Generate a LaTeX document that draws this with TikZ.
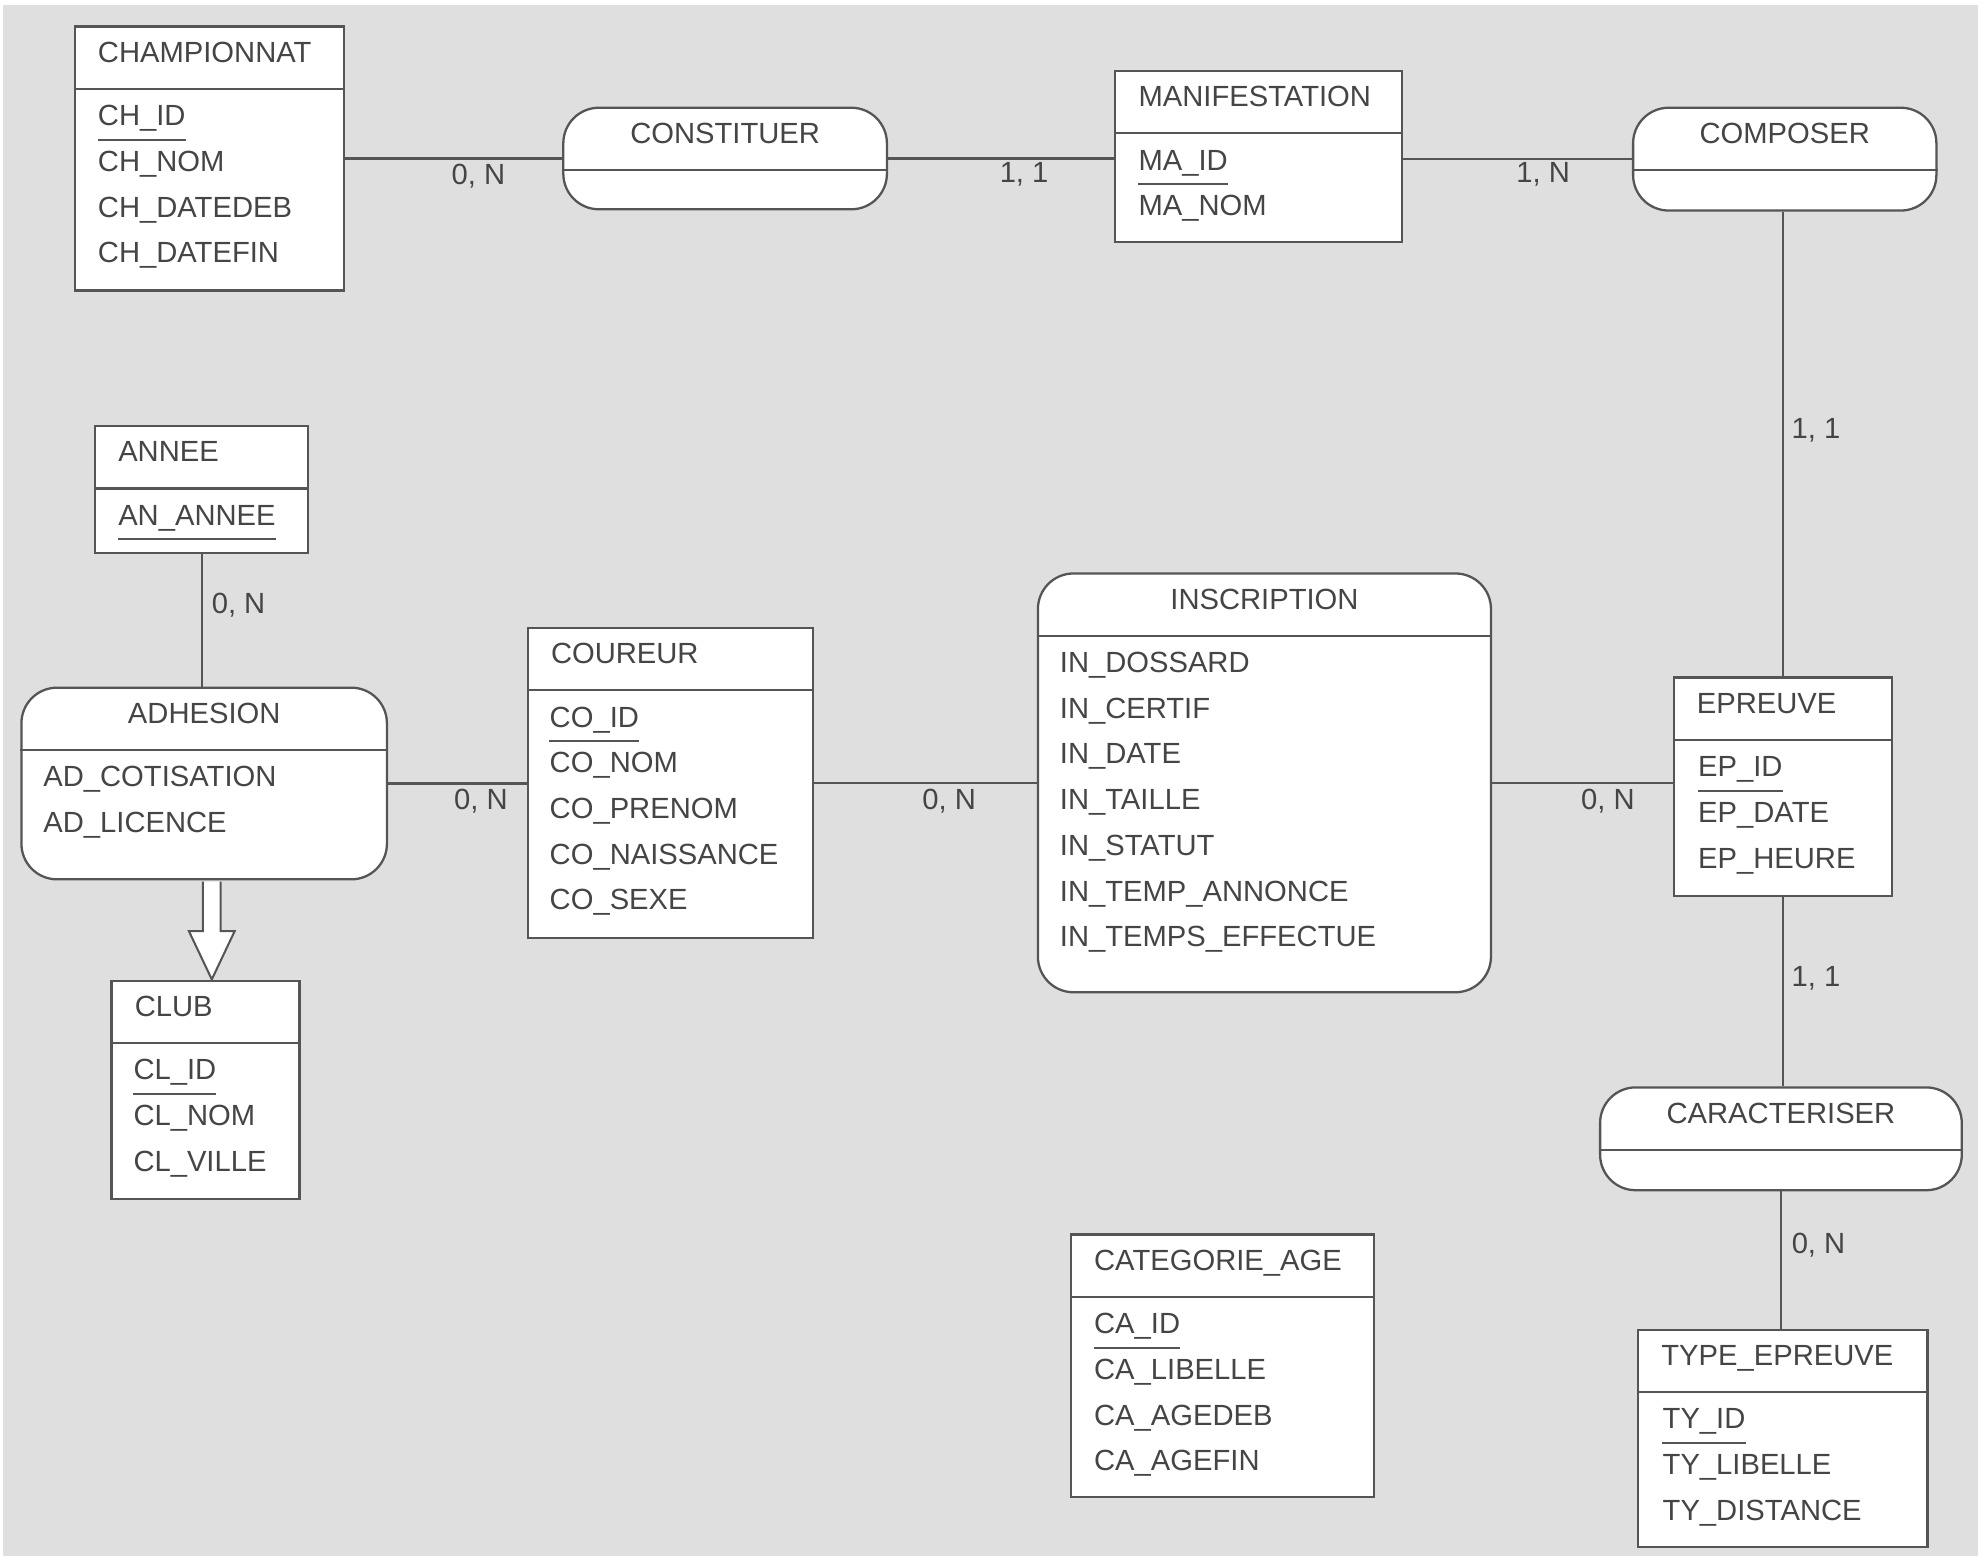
\documentclass[tikz,border=0pt]{standalone}
\usepackage{fontspec}
\setmainfont{Liberation Sans}
\usetikzlibrary{calc}
\definecolor{bggrey}{HTML}{DFDFDF}
\definecolor{linec}{HTML}{555555}
\definecolor{textc}{HTML}{454545}
\tikzset{
  conn/.style={draw=linec, line width=1.8pt},
  ent/.style={draw=linec, line width=1.8pt, fill=white, inner sep=0pt, rectangle},
  rel/.style={draw=linec, line width=1.8pt, fill=white, inner sep=0pt, rectangle, rounded corners=28pt},
  txt/.style={inner sep=0pt, anchor=base west, text=textc, font=\fontsize{23}{27}\selectfont},
  ctxt/.style={txt, anchor=base},
  card/.style={inner sep=0pt, anchor=center, text=textc, font=\fontsize{23}{27}\selectfont},
}
% name, x, y, w, h, title
\newcommand\entbox[6]{%
  \node[ent, minimum width=#4pt, minimum height=#5pt, anchor=north west] (#1) at (#2,#3) {};
  \draw[conn] ([yshift=-50pt]#1.north west) -- ([yshift=-50pt]#1.north east);
  \node[txt] (#1-t) at ([xshift=19pt,yshift=-29pt]#1.north west) {#6};
}
% name, x, y, w, h, title
\newcommand\relbox[6]{%
  \node[rel, minimum width=#4pt, minimum height=#5pt, anchor=north west] (#1) at (#2,#3) {};
  \draw[conn] ([yshift=-50pt]#1.north west) -- ([yshift=-50pt]#1.north east);
  \node[ctxt] (#1-t) at ([yshift=-29pt]#1.north) {#6};
}
% name, xoffset, list
\newcommand\attrlist[3]{%
  \foreach \a [count=\i] in {#3} {
    \node[txt] (#1-a\i) at ([xshift=#2pt,yshift={-79pt-36pt*(\i-1)}]#1.north west) {\a};
  }
}
\newcommand\ulkey[1]{%
  \draw[conn, line width=1.5pt] ([yshift=-11pt]#1-a1.base west) -- ([yshift=-11pt]#1-a1.base east);
}
\begin{document}
\begin{tikzpicture}[x=1pt, y=-1pt]
\useasboundingbox (0,0) rectangle (1565,1234.8);
\fill[white] (0,0) rectangle (1565,1234.8);
\fill[bggrey] (2,4) rectangle (1559,1226);

% entities
\entbox{champ}{58}{20}{212}{208}{CHAMPIONNAT}
\attrlist{champ}{19}{CH\_ID, CH\_NOM, CH\_DATEDEB, CH\_DATEFIN}
\ulkey{champ}

\entbox{manif}{878}{55}{226}{135}{MANIFESTATION}
\attrlist{manif}{19}{MA\_ID, MA\_NOM}
\ulkey{manif}

\entbox{annee}{74}{335}{168}{100}{ANNEE}
\attrlist{annee}{19}{AN\_ANNEE}
\ulkey{annee}

\entbox{coureur}{415}{494}{225}{244}{COUREUR}
\attrlist{coureur}{18}{CO\_ID, CO\_NOM, CO\_PRENOM, CO\_NAISSANCE, CO\_SEXE}
\ulkey{coureur}

\entbox{epreuve}{1318}{533}{172}{172}{EPREUVE}
\attrlist{epreuve}{20}{EP\_ID, EP\_DATE, EP\_HEURE}
\ulkey{epreuve}

\entbox{club}{87}{772}{148}{172}{CLUB}
\attrlist{club}{18}{CL\_ID, CL\_NOM, CL\_VILLE}
\ulkey{club}

\entbox{typeep}{1290}{1047}{228}{171}{TYPE\_EPREUVE}
\attrlist{typeep}{20}{TY\_ID, TY\_LIBELLE, TY\_DISTANCE}
\ulkey{typeep}

\entbox{categ}{843}{972}{239}{207}{CATEGORIE\_AGE}
\attrlist{categ}{19}{CA\_ID, CA\_LIBELLE, CA\_AGEDEB, CA\_AGEFIN}
\ulkey{categ}

% relationships
\relbox{constituer}{443}{84}{255}{80}{CONSTITUER}
\relbox{composer}{1286}{84}{239}{81}{COMPOSER}
\relbox{caract}{1260}{856}{285}{81}{CARACTERISER}
\relbox{adhesion}{16}{541}{288}{151}{ADHESION}
\attrlist{adhesion}{18}{AD\_COTISATION, AD\_LICENCE}
\relbox{inscr}{817}{451}{357}{330}{INSCRIPTION}
\attrlist{inscr}{18}{IN\_DOSSARD, IN\_CERTIF, IN\_DATE, IN\_TAILLE, IN\_STATUT, IN\_TEMP\_ANNONCE, IN\_TEMPS\_EFFECTUE}

% connectors
\draw[conn] (champ.east) -- (champ.east -| constituer.west);
\draw[conn] (constituer.east) -- (constituer.east -| manif.west);
\draw[conn] (composer.west -| manif.east) -- (composer.west);
\draw[conn] (epreuve.north |- composer.south) -- (epreuve.north);
\draw[conn] (annee.south) -- (annee.south |- adhesion.north);
\draw[conn] (adhesion.east) -- (adhesion.east -| coureur.west);
\draw[conn] (coureur.east) -- (coureur.east -| inscr.west);
\draw[conn] (inscr.east) -- (inscr.east -| epreuve.west);
\draw[conn] (caract.north -| epreuve.south) -- (epreuve.south);
\draw[conn] (caract.south) -- (caract.south |- typeep.north);

% inheritance-like hollow arrow
\coordinate (isa) at ($(adhesion.south)+(6,0)$);
\draw[conn, line width=1.6pt, fill=white, line join=miter]
  ($(isa)+(-7,1)$) -- ($(isa)+(-7,40)$) -- ($(isa)+(-18,40)$) -- ($(isa)+(0,78)$)
  -- ($(isa)+(18,40)$) -- ($(isa)+(7,40)$) -- ($(isa)+(7,1)$);

% cardinalities
\node[card] (c1) at (377,139) {0, N};
\node[card] (c2) at (807,137) {1, 1};
\node[card] (c3) at (1216,137) {1, N};
\node[card] (c4) at (1431,339) {1, 1};
\node[card] (c5) at (188,477) {0, N};
\node[card] (c6) at (379,631) {0, N};
\node[card] (c7) at (748,631) {0, N};
\node[card] (c8) at (1267,631) {0, N};
\node[card] (c9) at (1431,771) {1, 1};
\node[card] (c10) at (1433,981) {0, N};
\end{tikzpicture}
\end{document}
